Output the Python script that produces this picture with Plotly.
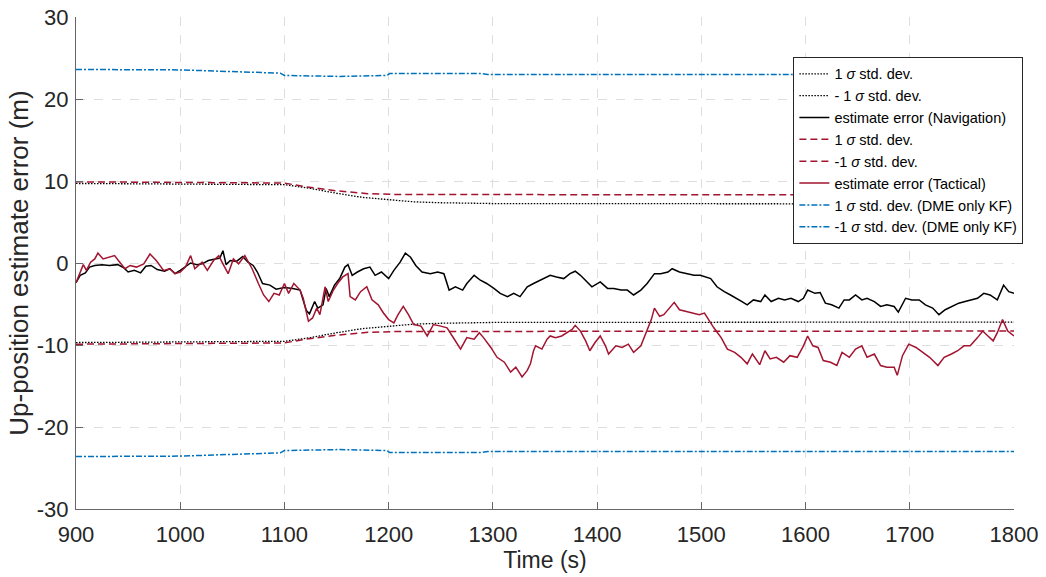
import plotly.graph_objects as go

# ---------------- data ----------------
nav_t = [900, 904, 909, 913, 918, 925, 932, 940, 946, 950, 956, 962, 967, 972, 978, 985, 990, 995,
         1000, 1006, 1010, 1016, 1021, 1027, 1033, 1038, 1041, 1044, 1048, 1054, 1060, 1065, 1070,
         1074, 1079, 1086, 1092, 1100, 1108, 1115, 1121, 1124, 1129, 1132, 1137, 1140, 1143, 1148,
         1153, 1158, 1161, 1165, 1170, 1176, 1182, 1187, 1193, 1200, 1205, 1211, 1216, 1221, 1226,
         1232, 1240, 1247, 1253, 1258, 1264, 1271, 1275, 1282, 1288, 1294, 1301, 1307, 1314, 1320,
         1326, 1333, 1339, 1342, 1348, 1355, 1361, 1368, 1374, 1379, 1384, 1390, 1395, 1403, 1410,
         1416, 1423, 1429, 1435, 1442, 1448, 1455, 1461, 1468, 1472, 1479, 1485, 1493, 1499, 1509,
         1515, 1522, 1528, 1534, 1539, 1544, 1550, 1557, 1561, 1567, 1574, 1580, 1586, 1593, 1598,
         1602, 1609, 1614, 1619, 1625, 1632, 1637, 1642, 1648, 1654, 1659, 1666, 1672, 1678, 1685,
         1689, 1696, 1702, 1709, 1715, 1722, 1728, 1734, 1741, 1747, 1753, 1758, 1765, 1771, 1777,
         1784, 1790, 1795, 1800]
nav_err = [-2.4, -1.5, -1.2, -0.5, -0.3, -0.2, -0.3, -0.2, -0.6, -1.1, -0.9, -1.2, -0.4, -0.3, -0.8,
           -1.0, -0.7, -1.3, -0.9, -0.3, 0.0, -0.2, -0.1, 0.3, 0.5, 0.6, 1.5, -0.2, 0.3, 0.2, 0.8,
           0.1, -0.3, -1.1, -2.5, -2.7, -3.2, -3.0, -3.1, -3.3, -5.8, -6.2, -4.7, -5.5, -5.1, -3.1,
           -4.1, -2.7, -1.9, -0.5, -0.2, -1.5, -1.1, -0.7, -0.5, -1.5, -1.1, -1.9, -0.9, 0.1, 1.2,
           0.7, -0.3, -1.1, -1.3, -1.1, -1.3, -3.3, -2.9, -3.3, -2.5, -1.5, -2.1, -2.5, -3.1, -3.7,
           -4.1, -3.7, -4.1, -2.9, -2.5, -2.3, -1.9, -1.5, -1.7, -1.9, -1.3, -1.0, -1.5, -2.3, -2.9,
           -2.3, -3.1, -3.1, -3.3, -3.3, -3.9, -3.3, -2.5, -1.3, -1.3, -1.1, -0.7, -1.1, -1.3, -1.5,
           -1.5, -1.9, -2.9, -3.5, -3.9, -4.3, -4.7, -5.1, -4.5, -4.7, -3.9, -4.7, -4.3, -4.5, -4.3,
           -4.7, -4.3, -3.3, -3.7, -3.6, -4.9, -5.1, -5.5, -4.5, -4.5, -3.9, -4.5, -4.3, -4.7, -5.3,
           -5.1, -5.3, -6.0, -4.3, -4.5, -4.5, -5.1, -5.5, -6.3, -5.7, -5.3, -4.9, -4.7, -4.5, -4.3,
           -3.7, -3.9, -4.5, -2.7, -3.5, -3.7]

tac_t = [900, 904, 907, 910, 914, 918, 921, 926, 932, 937, 942, 947, 952, 958, 965, 971, 977, 984,
         990, 995, 1000, 1005, 1010, 1014, 1021, 1026, 1032, 1037, 1041, 1046, 1051, 1056, 1062,
         1069, 1075, 1080, 1085, 1090, 1095, 1100, 1104, 1109, 1115, 1118, 1123, 1127, 1131, 1134,
         1139, 1142, 1147, 1151, 1156, 1161, 1163, 1168, 1173, 1179, 1184, 1190, 1195, 1200, 1205,
         1209, 1214, 1219, 1224, 1231, 1237, 1243, 1250, 1256, 1263, 1269, 1275, 1282, 1287, 1291,
         1298, 1304, 1311, 1317, 1322, 1328, 1333, 1336, 1339, 1341, 1347, 1352, 1355, 1360, 1366,
         1371, 1376, 1379, 1384, 1389, 1393, 1398, 1403, 1408, 1411, 1418, 1424, 1430, 1435, 1442,
         1447, 1452, 1455, 1460, 1464, 1469, 1474, 1479, 1485, 1492, 1498, 1503, 1508, 1512, 1519,
         1525, 1532, 1538, 1544, 1549, 1556, 1561, 1566, 1572, 1579, 1585, 1592, 1598, 1602, 1607,
         1612, 1617, 1624, 1630, 1635, 1642, 1648, 1654, 1659, 1666, 1672, 1678, 1685, 1688, 1693,
         1699, 1706, 1712, 1719, 1727, 1733, 1740, 1746, 1752, 1758, 1765, 1770, 1775, 1780, 1784,
         1789, 1794, 1800]
tac_err = [-2.4, -1.1, -0.2, -0.9, 0.1, 0.5, 1.2, 0.5, 0.7, 0.9, 0.1, -0.7, -0.3, -0.5, -0.1, 1.1,
           0.3, -0.9, -0.7, -1.3, -1.1, -0.5, 0.9, -0.7, 0.1, -0.9, 0.3, 0.9, -0.1, -1.3, 0.5, -0.1,
           0.9, -0.7, -2.5, -3.9, -4.7, -3.7, -3.9, -2.5, -3.7, -2.5, -3.3, -4.3, -7.1, -6.7, -5.5,
           -6.3, -2.9, -4.7, -3.3, -2.5, -1.7, -1.3, -4.1, -4.5, -3.5, -2.9, -4.5, -5.1, -6.1, -6.9,
           -7.3, -6.3, -5.3, -6.3, -7.5, -7.7, -8.9, -7.5, -7.7, -7.9, -9.3, -10.5, -9.1, -9.3, -8.5,
           -9.1, -10.3, -11.5, -12.1, -13.3, -12.7, -13.9, -13.1, -12.3, -10.7, -10.1, -10.5, -9.3,
           -8.9, -9.1, -8.9, -8.5, -8.1, -7.6, -8.3, -9.5, -10.7, -9.7, -8.9, -10.1, -11.1, -10.1,
           -10.3, -9.9, -10.9, -10.1, -8.5, -6.9, -5.5, -6.5, -6.3, -5.5, -4.8, -5.7, -5.9, -6.1,
           -6.3, -6.1, -7.1, -7.9, -9.1, -10.5, -10.9, -11.5, -12.3, -11.1, -12.4, -10.7, -11.7,
           -11.5, -12.1, -11.3, -11.5, -10.1, -8.9, -10.1, -10.3, -11.9, -12.1, -12.5, -10.9, -11.5,
           -10.5, -10.1, -11.5, -11.1, -12.5, -12.7, -12.7, -13.7, -11.3, -9.9, -10.3, -10.9, -11.5,
           -12.5, -11.5, -11.1, -10.7, -10.1, -10.1, -9.1, -8.3, -8.9, -9.5, -8.5, -6.9, -8.3, -8.9]

nav_sig_t = [900, 1000, 1100, 1125, 1150, 1175, 1200, 1225, 1250, 1300, 1800]
nav_sig = [9.7, 9.65, 9.55, 9.1, 8.5, 8.0, 7.7, 7.45, 7.35, 7.25, 7.2]

tac_sig_t = [900, 1000, 1100, 1120, 1150, 1180, 1210, 1800]
tac_sig = [9.9, 9.85, 9.75, 9.3, 8.8, 8.45, 8.35, 8.3]

dme_sig_t = [900, 1000, 1096, 1100, 1153, 1198, 1201, 1288, 1295, 1800]
dme_sig = [23.6, 23.55, 23.15, 22.87, 22.75, 22.87, 23.1, 23.1, 23.0, 23.0]

x_ticks = [900, 1000, 1100, 1200, 1300, 1400, 1500, 1600, 1700, 1800]
y_ticks = [-30, -20, -10, 0, 10, 20, 30]
y_tick_text = ["-30", "-20", "-10", "0", "10", "20", "30"]

# ---------------- styles ----------------
BLACK = "#000000"
CRIMSON = "#A2142F"
BLUE = "#0072BD"
SIG = "<i>σ</i>"

fig = go.Figure()

def add(x, y, name, color, dash, width):
    fig.add_trace(go.Scatter(x=x, y=y, mode="lines", name=name,
                             line=dict(color=color, dash=dash, width=width)))

add(nav_sig_t, nav_sig, f"1 {SIG} std. dev.", BLACK, "1.5px,1.5px", 1.3)
add(nav_sig_t, [-v for v in nav_sig], f"- 1 {SIG} std. dev.", BLACK, "1.5px,1.5px", 1.3)
add(nav_t, nav_err, "estimate error (Navigation)", BLACK, "solid", 1.5)
add(tac_sig_t, tac_sig, f"1 {SIG} std. dev.", CRIMSON, "7px,4px", 1.5)
add(tac_sig_t, [-v for v in tac_sig], f"-1 {SIG} std. dev.", CRIMSON, "7px,4px", 1.5)
add(tac_t, tac_err, "estimate error (Tactical)", CRIMSON, "solid", 1.5)
add(dme_sig_t, dme_sig, f"1 {SIG} std. dev. (DME only KF)", BLUE, "6px,2px,2px,2px", 1.5)
add(dme_sig_t, [-v for v in dme_sig], f"-1 {SIG} std. dev. (DME only KF)", BLUE, "6px,2px,2px,2px", 1.5)

FONT = "Liberation Sans, Arial, sans-serif"
TXT = "#262626"

axis_common = dict(
    showgrid=True, gridcolor="#dedede", griddash="dash", gridwidth=1,
    showline=True, linecolor="#666666", linewidth=1,
    ticks="inside", ticklen=7, tickcolor="#666666",
    zeroline=False, mirror=False, automargin=False,
    tickfont=dict(family=FONT, size=22, color=TXT),
)

fig.update_layout(
    width=1046, height=577,
    margin=dict(l=76, r=32, t=17, b=68),
    paper_bgcolor="white", plot_bgcolor="white",
    xaxis=dict(range=[900, 1800], tickvals=x_ticks, ticklabelstandoff=6,
               title=dict(text="Time (s)", font=dict(family=FONT, size=23, color=TXT),
                          standoff=2),
               **axis_common),
    yaxis=dict(range=[-30, 30], tickvals=y_ticks, ticktext=y_tick_text, ticklabelstandoff=2,
               title=dict(text="Up-position estimate error (m)",
                          font=dict(family=FONT, size=26, color=TXT), standoff=0),
               **axis_common),
    legend=dict(x=1.01, y=0.919, xanchor="right", yanchor="top",
                bgcolor="white", bordercolor=TXT, borderwidth=1,
                font=dict(family=FONT, size=14.5, color="#000000"),
                itemwidth=30, tracegroupgap=0),
    showlegend=True,
)

fig.write_html("out.html")
